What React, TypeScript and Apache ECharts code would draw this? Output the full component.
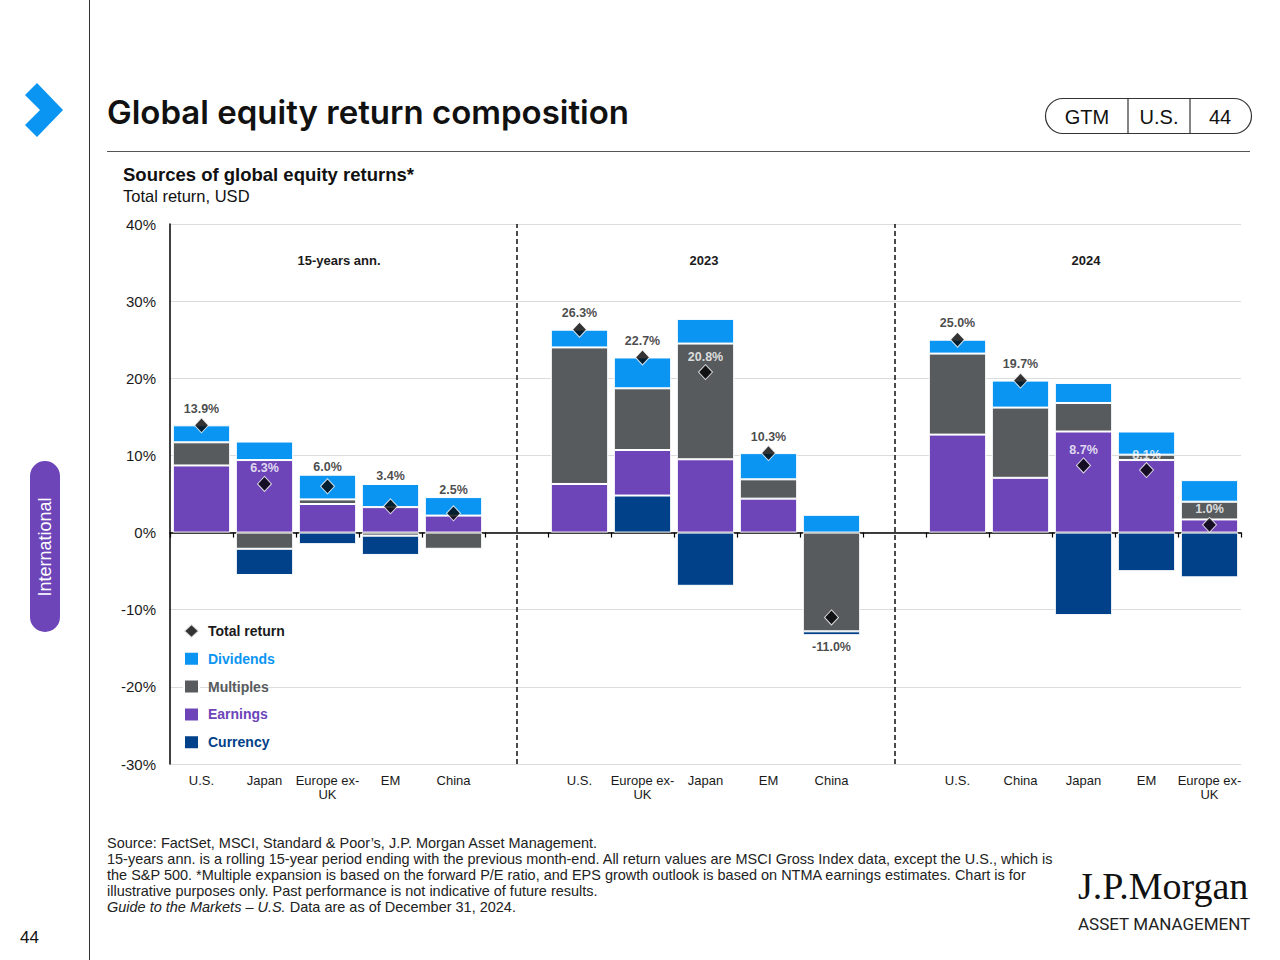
import React, { useEffect, useRef } from 'react';
import * as echarts from 'echarts';

// ---------- data ----------
const groupTitles = ['15-years ann.', '2023', '2024'];
const categories = [
  'U.S.', 'Japan', 'Europe ex-\nUK', 'EM', 'China', '',
  'U.S.', 'Europe ex-\nUK', 'Japan', 'EM', 'China', '',
  'U.S.', 'China', 'Japan', 'EM', 'Europe ex-\nUK',
];
const dividends = [2.2, 2.4, 3.2, 3.0, 2.4, null, 2.3, 4.0, 3.2, 3.4, 2.3, null, 1.8, 3.5, 2.6, 3.0, 2.8];
const multiples = [3.0, -2.1, 0.6, -0.4, -2.1, null, 17.7, 8.0, 15.0, 2.5, -12.8, null, 10.5, 9.1, 3.7, 0.7, 2.3];
const earnings = [8.7, 9.4, 3.7, 3.3, 2.2, null, 6.3, 5.9, 9.5, 4.4, 0, null, 12.7, 7.1, 13.1, 9.4, 1.7];
const currency = [0, -3.4, -1.5, -2.5, 0, null, 0, 4.8, -6.9, 0, -0.5, null, 0, 0, -10.7, -5.0, -5.8];
const totalReturn = [13.9, 6.3, 6.0, 3.4, 2.5, null, 26.3, 22.7, 20.8, 10.3, -11.0, null, 25.0, 19.7, 8.7, 8.1, 1.0];
// where the total-return label sits: above the bar, inside it (white), or below it
const labelPlacement = [
  'above', 'inside', 'above', 'above', 'above', null,
  'above', 'above', 'inside', 'above', 'below', null,
  'above', 'above', 'inside', 'inside', 'inside',
];
const yTicks = { min: -30, max: 40, interval: 10 };

// ---------- styles ----------
const C = {
  dividends: '#0b95f2',
  multiples: '#575b5e',
  earnings: '#6d45b9',
  currency: '#01418a',
  text: '#1a1a1a',
};
const FONT = '"Liberation Sans", Arial, sans-serif';

export default function App() {
  const ref = useRef<HTMLDivElement>(null);

  useEffect(() => {
    const chart = echarts.init(ref.current!, null, { renderer: 'svg' });

    const nz = (v: number | null) => (v == null || v === 0 ? null : v);
    const currencyPos = currency.map((v) => (v != null && v > 0 ? v : null));
    const currencyNeg = currency.map((v) => (v != null && v < 0 ? v : null));

    const comps = [dividends, multiples, earnings, currency];
    const posTop = categories.map((_, i) =>
      comps.reduce((s, a) => s + (a[i] != null && (a[i] as number) > 0 ? (a[i] as number) : 0), 0)
    );
    const negBottom = categories.map((_, i) =>
      comps.reduce((s, a) => s + (a[i] != null && (a[i] as number) < 0 ? (a[i] as number) : 0), 0)
    );

    const labelData = totalReturn.map((t, i) => {
      const p = labelPlacement[i];
      if (t == null || p == null) return null;
      const txt = t.toFixed(1) + '%';
      if (p === 'inside') {
        return {
          value: [i, t],
          label: { show: true, position: 'top', distance: 9, color: '#fff', formatter: txt },
        };
      }
      if (p === 'below') {
        return {
          value: [i, negBottom[i]],
          label: { show: true, position: 'bottom', distance: 5, color: C.text, formatter: txt },
        };
      }
      const onDiamond = t >= posTop[i] - 0.3;
      return {
        value: [i, onDiamond ? t : posTop[i]],
        label: { show: true, position: 'top', distance: onDiamond ? 10 : 1, color: C.text, formatter: txt },
      };
    }).filter(Boolean);

    const barBase = {
      type: 'bar',
      stack: 'total',
      xAxisIndex: 0,
      barCategoryGap: '9%',
      itemStyle: { borderColor: '#fff', borderWidth: 1 },
      emphasis: { disabled: true },
    };

    const groupCenters = [339, 704, 1086];

    const option: any = {
      animation: false,
      backgroundColor: '#fff',
      textStyle: { fontFamily: FONT },
      grid: { left: 170, right: 39, top: 224, bottom: 196, containLabel: false },
      xAxis: [
        {
          type: 'category',
          data: categories,
          position: 'bottom',
          axisLine: { show: false, onZero: false },
          axisTick: { show: false },
          axisLabel: { interval: 0, fontSize: 13, color: C.text, margin: 9, lineHeight: 14, fontFamily: FONT },
          splitLine: { show: false },
        },
        {
          type: 'category',
          data: categories,
          position: 'bottom',
          axisLine: { show: true, onZero: true, lineStyle: { color: '#000', width: 1.5 } },
          axisTick: { show: true, interval: 0, length: 5, lineStyle: { color: '#000', width: 1.2 } },
          axisLabel: { show: false },
          splitLine: { show: false },
        },
      ],
      yAxis: {
        type: 'value',
        min: yTicks.min,
        max: yTicks.max,
        interval: yTicks.interval,
        axisLabel: { formatter: '{value}%', fontSize: 15, color: C.text, margin: 14, fontFamily: FONT },
        axisLine: { show: true, lineStyle: { color: '#000', width: 1.5 } },
        axisTick: { show: false },
        splitLine: { lineStyle: { color: '#dcdcdc', width: 1 } },
      },
      legend: {
        orient: 'vertical',
        left: 178,
        top: 618,
        itemWidth: 15,
        itemHeight: 14,
        itemGap: 11.8,
        selectedMode: false,
        textStyle: { fontSize: 14, fontWeight: 'bold', fontFamily: FONT, padding: [0, 0, 0, 4] },
        data: [
          { name: 'Total return', icon: 'diamond', textStyle: { color: C.text } },
          { name: 'Dividends', icon: 'rect', itemStyle: {}, textStyle: { color: C.dividends } },
          { name: 'Multiples', icon: 'rect', textStyle: { color: C.multiples } },
          { name: 'Earnings', icon: 'rect', textStyle: { color: C.earnings } },
          { name: 'Currency', icon: 'rect', textStyle: { color: C.currency } },
        ],
      },
      series: [
        { ...barBase, name: 'Currency', data: currencyPos, itemStyle: { ...barBase.itemStyle, color: C.currency } },
        { ...barBase, name: 'Earnings', data: earnings.map(nz), itemStyle: { ...barBase.itemStyle, color: C.earnings } },
        { ...barBase, name: 'Multiples', data: multiples.map(nz), itemStyle: { ...barBase.itemStyle, color: C.multiples } },
        {
          ...barBase,
          name: 'Dividends',
          data: dividends.map(nz),
          itemStyle: { ...barBase.itemStyle, color: C.dividends },
          markLine: {
            silent: true,
            symbol: 'none',
            label: { show: false },
            lineStyle: { type: [5, 3], color: '#111', width: 1.5 },
            data: [{ xAxis: 5 }, { xAxis: 11 }],
          },
        },
        { ...barBase, name: 'Currency', data: currencyNeg, itemStyle: { ...barBase.itemStyle, color: C.currency } },
        {
          type: 'scatter',
          name: 'Total return',
          xAxisIndex: 0,
          symbol: 'diamond',
          symbolSize: [14, 15],
          z: 5,
          itemStyle: { color: '#000', borderColor: '#fff', borderWidth: 1 },
          data: totalReturn.map((v, i) => (v == null ? null : [i, v])).filter(Boolean),
        },
        {
          type: 'scatter',
          name: 'labels',
          xAxisIndex: 0,
          symbolSize: 0,
          silent: true,
          z: 6,
          label: { fontSize: 12.5, fontWeight: 'bold', fontFamily: FONT },
          data: labelData,
        },
      ],
      graphic: {
        elements: [
          // left rule
          { type: 'line', shape: { x1: 89.5, y1: 0, x2: 89.5, y2: 960 }, style: { stroke: '#333', lineWidth: 1 } },
          // chevron
          {
            type: 'polygon',
            shape: { points: [[25, 95], [37, 83], [63, 110], [37, 137], [25, 125], [40, 110]] },
            style: { fill: C.dividends },
          },
          // title
          {
            type: 'text', x: 107, y: 112,
            style: { text: 'Global equity return composition', fontSize: 33, fontWeight: 600, fontFamily: 'Inter', fill: '#111', verticalAlign: 'middle' },
          },
          { type: 'line', shape: { x1: 107, y1: 151.5, x2: 1250, y2: 151.5 }, style: { stroke: '#555', lineWidth: 1 } },
          // GTM pill
          { type: 'rect', shape: { x: 1045.5, y: 98.5, width: 206, height: 35, r: 17.5 }, style: { fill: 'none', stroke: '#333', lineWidth: 1.2 } },
          { type: 'line', shape: { x1: 1128, y1: 98.5, x2: 1128, y2: 133.5 }, style: { stroke: '#333', lineWidth: 1.2 } },
          { type: 'line', shape: { x1: 1190, y1: 98.5, x2: 1190, y2: 133.5 }, style: { stroke: '#333', lineWidth: 1.2 } },
          { type: 'text', x: 1087, y: 117, style: { text: 'GTM', fontSize: 20, fontFamily: FONT, fill: '#111', align: 'center', verticalAlign: 'middle' } },
          { type: 'text', x: 1159, y: 117, style: { text: 'U.S.', fontSize: 20, fontFamily: FONT, fill: '#111', align: 'center', verticalAlign: 'middle' } },
          { type: 'text', x: 1220, y: 117, style: { text: '44', fontSize: 20, fontFamily: FONT, fill: '#111', align: 'center', verticalAlign: 'middle' } },
          // subtitles
          { type: 'text', x: 123, y: 174, style: { text: 'Sources of global equity returns*', fontSize: 18.5, fontWeight: 'bold', fontFamily: FONT, fill: '#111', verticalAlign: 'middle' } },
          { type: 'text', x: 123, y: 196, style: { text: 'Total return, USD', fontSize: 16.5, fontFamily: FONT, fill: '#111', verticalAlign: 'middle' } },
          // group titles
          ...groupTitles.map((t, k) => ({
            type: 'text', x: groupCenters[k], y: 260,
            style: { text: t, fontSize: 13, fontWeight: 'bold', fontFamily: FONT, fill: C.text, align: 'center', verticalAlign: 'middle' },
          })),
          // side tab
          { type: 'rect', shape: { x: 30, y: 461, width: 30, height: 171, r: 15 }, style: { fill: C.earnings } },
          {
            type: 'text', x: 45, y: 547, rotation: Math.PI / 2,
            style: { text: 'International', fontSize: 18, fontFamily: FONT, fill: '#fff', align: 'center', verticalAlign: 'middle' },
          },
          // page number
          { type: 'text', x: 20, y: 937, style: { text: '44', fontSize: 17, fontFamily: FONT, fill: '#111', verticalAlign: 'middle' } },
          // footer
          {
            type: 'text', x: 107, y: 835, scaleX: 1.035,
            style: {
              text:
                'Source: FactSet, MSCI, Standard & Poor\u2019s, J.P. Morgan Asset Management.\n' +
                '15-years ann. is a rolling 15-year period ending with the previous month-end. All return values are MSCI Gross Index data, except the U.S., which is\n' +
                'the S&P 500. *Multiple expansion is based on the forward P/E ratio, and EPS growth outlook is based on NTMA earnings estimates. Chart is for\n' +
                'illustrative purposes only. Past performance is not indicative of future results.\n' +
                '{i|Guide to the Markets \u2013 U.S.} Data are as of December 31, 2024.',
              fontSize: 14, lineHeight: 16, fontFamily: FONT, fill: '#222',
              rich: { i: { fontStyle: 'italic', fontSize: 14, lineHeight: 16, fontFamily: FONT, fill: '#222' } },
            },
          },
          // logo
          { type: 'text', x: 1078, y: 886, style: { text: 'J.P.Morgan', fontSize: 38, fontFamily: '"Liberation Serif", serif', fill: '#111', verticalAlign: 'middle' } },
          { type: 'text', x: 1078, y: 924, style: { text: 'ASSET MANAGEMENT', fontSize: 17, fontFamily: 'Roboto', fill: '#222', verticalAlign: 'middle' } },
        ],
      },
    };

    chart.setOption(option);
    return () => chart.dispose();
  }, []);

  return (
    <div
      ref={ref}
      style={{ position: 'fixed', left: 0, top: 0, width: 1280, height: 960, background: '#fff' }}
    />
  );
}
